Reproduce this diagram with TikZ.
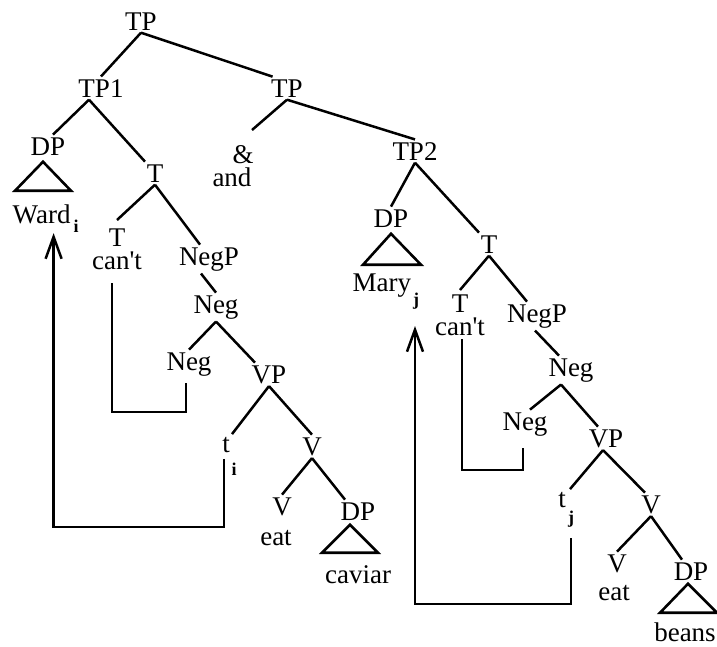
\documentclass[tikz,border=0pt]{standalone}
\usepackage{fontspec}
\setmainfont{Liberation Serif}
\usetikzlibrary{arrows.meta,calc}
\begin{document}
\begin{tikzpicture}[x=1pt,y=-1pt,
  lab/.style={font=\fontsize{27}{27}\selectfont, inner sep=2.5pt, anchor=base},
  two/.style={align=center, font=\fontsize{27}{23}\selectfont, anchor=north, inner sep=1pt},
  sub/.style={font=\fontsize{18}{18}\selectfont\bfseries, inner sep=1pt, anchor=base},
  br/.style={line width=2.5pt},
  mv/.style={line width=2.5pt},
  mvarrow/.style={line width=2.5pt, -{Straight Barb[length=22pt,width=16pt,line width=2.5pt]}},
  tri/.style={line width=2.6pt, line join=miter}
]
\useasboundingbox (0,0) rectangle (717,646);

% ---- nodes ----
\node[lab] (tp) at (141,30) {TP};
\node[lab] (tp1) at (101,97) {TP1};
\node[lab] (tpr) at (287,97) {TP};
\node[lab] (dp1) at (48,155) {DP};
\node[lab] (t1) at (155,182) {T};
\node[two] (amp) at (232,144) {\hspace*{22pt}\&\\and};
\node[lab] (tp2) at (415,160) {TP2};
\node[lab] (dp2) at (391,227) {DP};
\node[lab, anchor=base west] (ward) at (10,223) {Ward};
\node[sub] (wardi) at (76,232) {i};
\node[lab, anchor=base west] (mary) at (350,291) {Mary};
\node[sub] (maryj) at (416,305) {j};
\node[lab] (t2) at (489,253) {T};

\node[two] (t1s) at (117,228) {T\\can\textquotesingle t};
\node[lab] (negp1) at (209,265) {NegP};
\node[lab] (neg1) at (216,313) {Neg};
\node[lab] (neg1b) at (189,370) {Neg};
\node[lab] (vp1) at (269,383) {VP};
\node[lab] (tr1) at (226,452) {t};
\node[sub] (tr1i) at (234,475) {i};
\node[lab] (v1) at (312,455) {V};
\node[lab] (v1b) at (282,515) {V};
\node[lab] (eat1) at (276,545) {eat};
\node[lab] (dp3) at (358,520) {DP};
\node[lab] (caviar) at (358,583) {caviar};

\node[two] (t2s) at (460,294) {T\\can\textquotesingle t};
\node[lab] (negp2) at (537,322) {NegP};
\node[lab] (neg2) at (571,376) {Neg};
\node[lab] (neg2b) at (525,430) {Neg};
\node[lab] (vp2) at (606,447) {VP};
\node[lab] (tr2) at (562,507) {t};
\node[sub] (tr2j) at (571,523) {j};
\node[lab] (v2) at (651,513) {V};
\node[lab] (v2b) at (617,572) {V};
\node[lab] (eat2) at (614,600) {eat};
\node[lab] (dp4) at (691,580) {DP};
\node[lab] (beans) at (685,641) {beans};

% ---- tree branches ----
\draw[br] (tp.south) -- (tp1.north);
\draw[br] (tp.south) -- ([xshift=4pt]tpr.north west);
\draw[br] ([xshift=-12pt]tp1.south) -- ([xshift=5pt]dp1.north);
\draw[br] ([xshift=-12pt]tp1.south) -- ([xshift=-10pt]t1.north);
\draw[br] (tpr.south) -- ([xshift=20pt,yshift=14pt]amp.north);
\draw[br] (tpr.south) -- (tp2.north);
\draw[br] (tp2.south) -- (dp2.north);
\draw[br] (tp2.south) -- ([xshift=-10pt]t2.north);
\draw[br] (t1.south) -- ([yshift=8pt]t1s.north);
\draw[br] (t1.south) -- ([xshift=-9pt]negp1.north);
\draw[br] ([xshift=-8pt]negp1.south) -- (neg1.north);
\draw[br] (neg1.south) -- (neg1b.north);
\draw[br] (neg1.south) -- ([xshift=-14pt]vp1.north);
\draw[br] (vp1.south) -- ([xshift=6pt]tr1.north);
\draw[br] (vp1.south) -- (v1.north);
\draw[br] (v1.south) -- (v1b.north);
\draw[br] (v1.south) -- ([xshift=-13pt]dp3.north);
\draw[br] (t2.south) -- ([yshift=4pt]t2s.north);
\draw[br] (t2.south) -- ([xshift=-10pt]negp2.north);
\draw[br] ([xshift=-2pt]negp2.south) -- ([xshift=-12pt]neg2.north);
\draw[br] ([xshift=-10pt]neg2.south) -- ([xshift=5pt]neg2b.north);
\draw[br] ([xshift=-10pt]neg2.south) -- ([xshift=-8pt]vp2.north);
\draw[br] ([xshift=-3pt]vp2.south) -- ([xshift=8pt]tr2.north);
\draw[br] ([xshift=-3pt]vp2.south) -- ([xshift=-6pt]v2.north);
\draw[br] (v2.south) -- (v2b.north);
\draw[br] (v2.south) -- ([xshift=-9pt]dp4.north);

% ---- triangles ----
\draw[tri] ([xshift=-5pt,yshift=-4pt]dp1.south) -- ++(-28,29) -- ++(56,0) -- cycle;
\draw[tri] ([yshift=-4pt]dp2.south) -- ++(-28,31) -- ++(58,0) -- cycle;
\draw[tri] ([xshift=-8pt,yshift=-2pt]dp3.south) -- ++(-28,28) -- ++(56,0) -- cycle;
\draw[tri] ([xshift=-3pt,yshift=-1pt]dp4.south) -- ++(-28,29) -- ++(57,0) -- cycle;

% ---- movement brackets ----
\coordinate (b1) at (0,412);
\coordinate (b2) at (0,527);
\coordinate (b3) at (0,470);
\coordinate (b4) at (0,604);
\coordinate (wardtip) at ([xshift=12pt,yshift=-7pt]ward.south);
\coordinate (marytip) at ([xshift=-1pt,yshift=-16pt]maryj.south);

\draw[mv, shorten <=12pt, shorten >=4pt] ([xshift=-5pt]t1s.south) |- ([xshift=-3pt]neg1b.south |- b1) -- ([xshift=-3pt]neg1b.south);
\draw[mvarrow, shorten <=4pt] ([xshift=-2pt]tr1.south) |- (wardtip |- b2) -- (wardtip);

\draw[mv, shorten <=2pt, shorten >=9pt] ([xshift=2pt]t2s.south) |- ([xshift=-2pt]neg2b.south |- b3) -- ([xshift=-2pt]neg2b.south);
\draw[mvarrow, shorten <=10pt] (tr2j.south) |- (marytip |- b4) -- (marytip);
\end{tikzpicture}
\end{document}
